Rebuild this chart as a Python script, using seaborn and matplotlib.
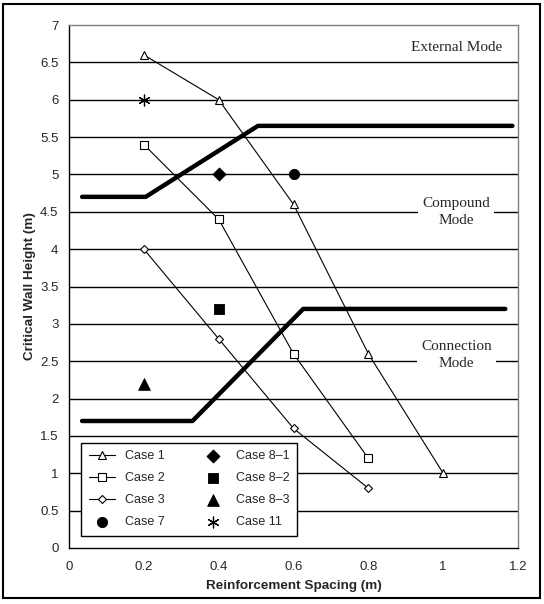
import matplotlib
matplotlib.use("Agg")
import matplotlib.pyplot as plt
import matplotlib.patches as mpatches
import seaborn as sns
import pandas as pd

# datos
spacing = [0.2, 0.4, 0.6, 0.8, 1.0]
case1 = [6.6, 6.0, 4.6, 2.6, 1.0]
case2 = [5.4, 4.4, 2.6, 1.2]
case3 = [4.0, 2.8, 1.6, 0.8]

case7_x, case7_y = [0.6], [5.0]
case81_x, case81_y = [0.4], [5.0]
case82_x, case82_y = [0.4], [3.2]
case83_x, case83_y = [0.2], [2.2]
case11_x, case11_y = [0.2], [6.0]

# limites entre modos
upper_x = [0.035, 0.205, 0.505, 1.185]
upper_y = [4.7, 4.7, 5.65, 5.65]
lower_x = [0.035, 0.33, 0.626, 1.166]
lower_y = [1.7, 1.7, 3.2, 3.2]

sns.set_style("white")
plt.rcParams["font.family"] = ["Liberation Sans", "DejaVu Sans"]

fig = plt.figure(figsize=(5.44, 6.04), dpi=100)
ax = fig.add_axes([69 / 544, 1 - 548 / 604, 449 / 544, 523 / 604])

for y in [0.5 * i for i in range(1, 14)]:
    ax.axhline(y, color="black", lw=1, zorder=0)

thin = dict(color="black", lw=0.8, markersize=5.5, markerfacecolor="white",
            markeredgecolor="black", markeredgewidth=0.8)
sns.lineplot(x=spacing, y=case1, ax=ax, marker="^", label="Case 1", sort=False, **thin)
sns.lineplot(x=spacing[:4], y=case2, ax=ax, marker="s", label="Case 2", sort=False, **thin)
sns.lineplot(x=spacing[:4], y=case3, ax=ax, marker="D", label="Case 3", sort=False,
             **{**thin, "markersize": 4.5})

sns.scatterplot(x=case7_x, y=case7_y, ax=ax, marker="o", s=55, color="black",
                edgecolor="black", label="Case 7")
sns.scatterplot(x=case81_x, y=case81_y, ax=ax, marker="D", s=45, color="black",
                edgecolor="black", label="Case 8\u20131")
sns.scatterplot(x=case82_x, y=case82_y, ax=ax, marker="s", s=60, color="black",
                edgecolor="black", label="Case 8\u20132")
sns.scatterplot(x=case83_x, y=case83_y, ax=ax, marker="^", s=70, color="black",
                edgecolor="black", label="Case 8\u20133")
sns.scatterplot(x=case11_x, y=case11_y, ax=ax, marker=(6, 2, 0), s=60, color="black",
                linewidth=0.9, label="Case 11")

sns.lineplot(x=upper_x, y=upper_y, ax=ax, color="black", lw=3.2, sort=False, legend=False)
sns.lineplot(x=lower_x, y=lower_y, ax=ax, color="black", lw=3.2, sort=False, legend=False)

ax.set_xlim(0, 1.2)
ax.set_ylim(0, 7)
ax.set_xticks([0, 0.2, 0.4, 0.6, 0.8, 1.0, 1.2])
ax.set_xticklabels(["0", "0.2", "0.4", "0.6", "0.8", "1", "1.2"])
ax.set_yticks([0.5 * i for i in range(15)])
ax.set_yticklabels(["0", "0.5", "1", "1.5", "2", "2.5", "3", "3.5", "4", "4.5",
                    "5", "5.5", "6", "6.5", "7"])
ax.tick_params(axis="both", direction="out", length=3.6, width=1, color="black",
               labelsize=9.5)
ax.tick_params(axis="x", pad=6)
ax.tick_params(axis="y", pad=4)

for s in ["top", "right"]:
    ax.spines[s].set_color("#808080")
    ax.spines[s].set_linewidth(1)
for s in ["left", "bottom"]:
    ax.spines[s].set_color("black")
    ax.spines[s].set_linewidth(1)

ax.set_xlabel("Reinforcement Spacing (m)", fontsize=9.7, fontweight="bold", va="center")
ax.set_ylabel("Critical Wall Height (m)", fontsize=9.7, fontweight="bold", va="center")
ax.xaxis.set_label_coords(0.5, (548 - 586) / 523)
ax.yaxis.set_label_coords((30 - 69) / 449, 0.5)

box = dict(facecolor="white", edgecolor="none", pad=3)
txt = dict(fontsize=11, family=["Liberation Serif", "DejaVu Serif"], ha="center",
           va="center", linespacing=1.4, bbox=box, zorder=5)
ax.text(1.035, 6.7, "External Mode", **txt)
ax.text(1.035, 4.5, "Compound\nMode", **txt)
ax.text(1.035, 2.58, "Connection\nMode", **txt)

handles, labels = ax.get_legend_handles_labels()
order = ["Case 1", "Case 2", "Case 3", "Case 7",
         "Case 8\u20131", "Case 8\u20132", "Case 8\u20133", "Case 11"]
hmap = dict(zip(labels, handles))
leg = ax.legend([hmap[k] for k in order], order, ncol=2, loc="lower left",
                bbox_to_anchor=(0.027, 0.023), borderaxespad=0, fontsize=9,
                frameon=True, fancybox=False, edgecolor="black", framealpha=1,
                handlelength=2.1, handletextpad=0.8, columnspacing=2.8,
                labelspacing=0.8, borderpad=0.6)
leg.get_frame().set_linewidth(1)

fig.patches.append(mpatches.Rectangle((3 / 544, 1 - 598 / 604), 537 / 544, 594 / 604,
                                      transform=fig.transFigure, fill=False,
                                      edgecolor="black", lw=1.5))

fig.savefig("out.png", dpi=100)
